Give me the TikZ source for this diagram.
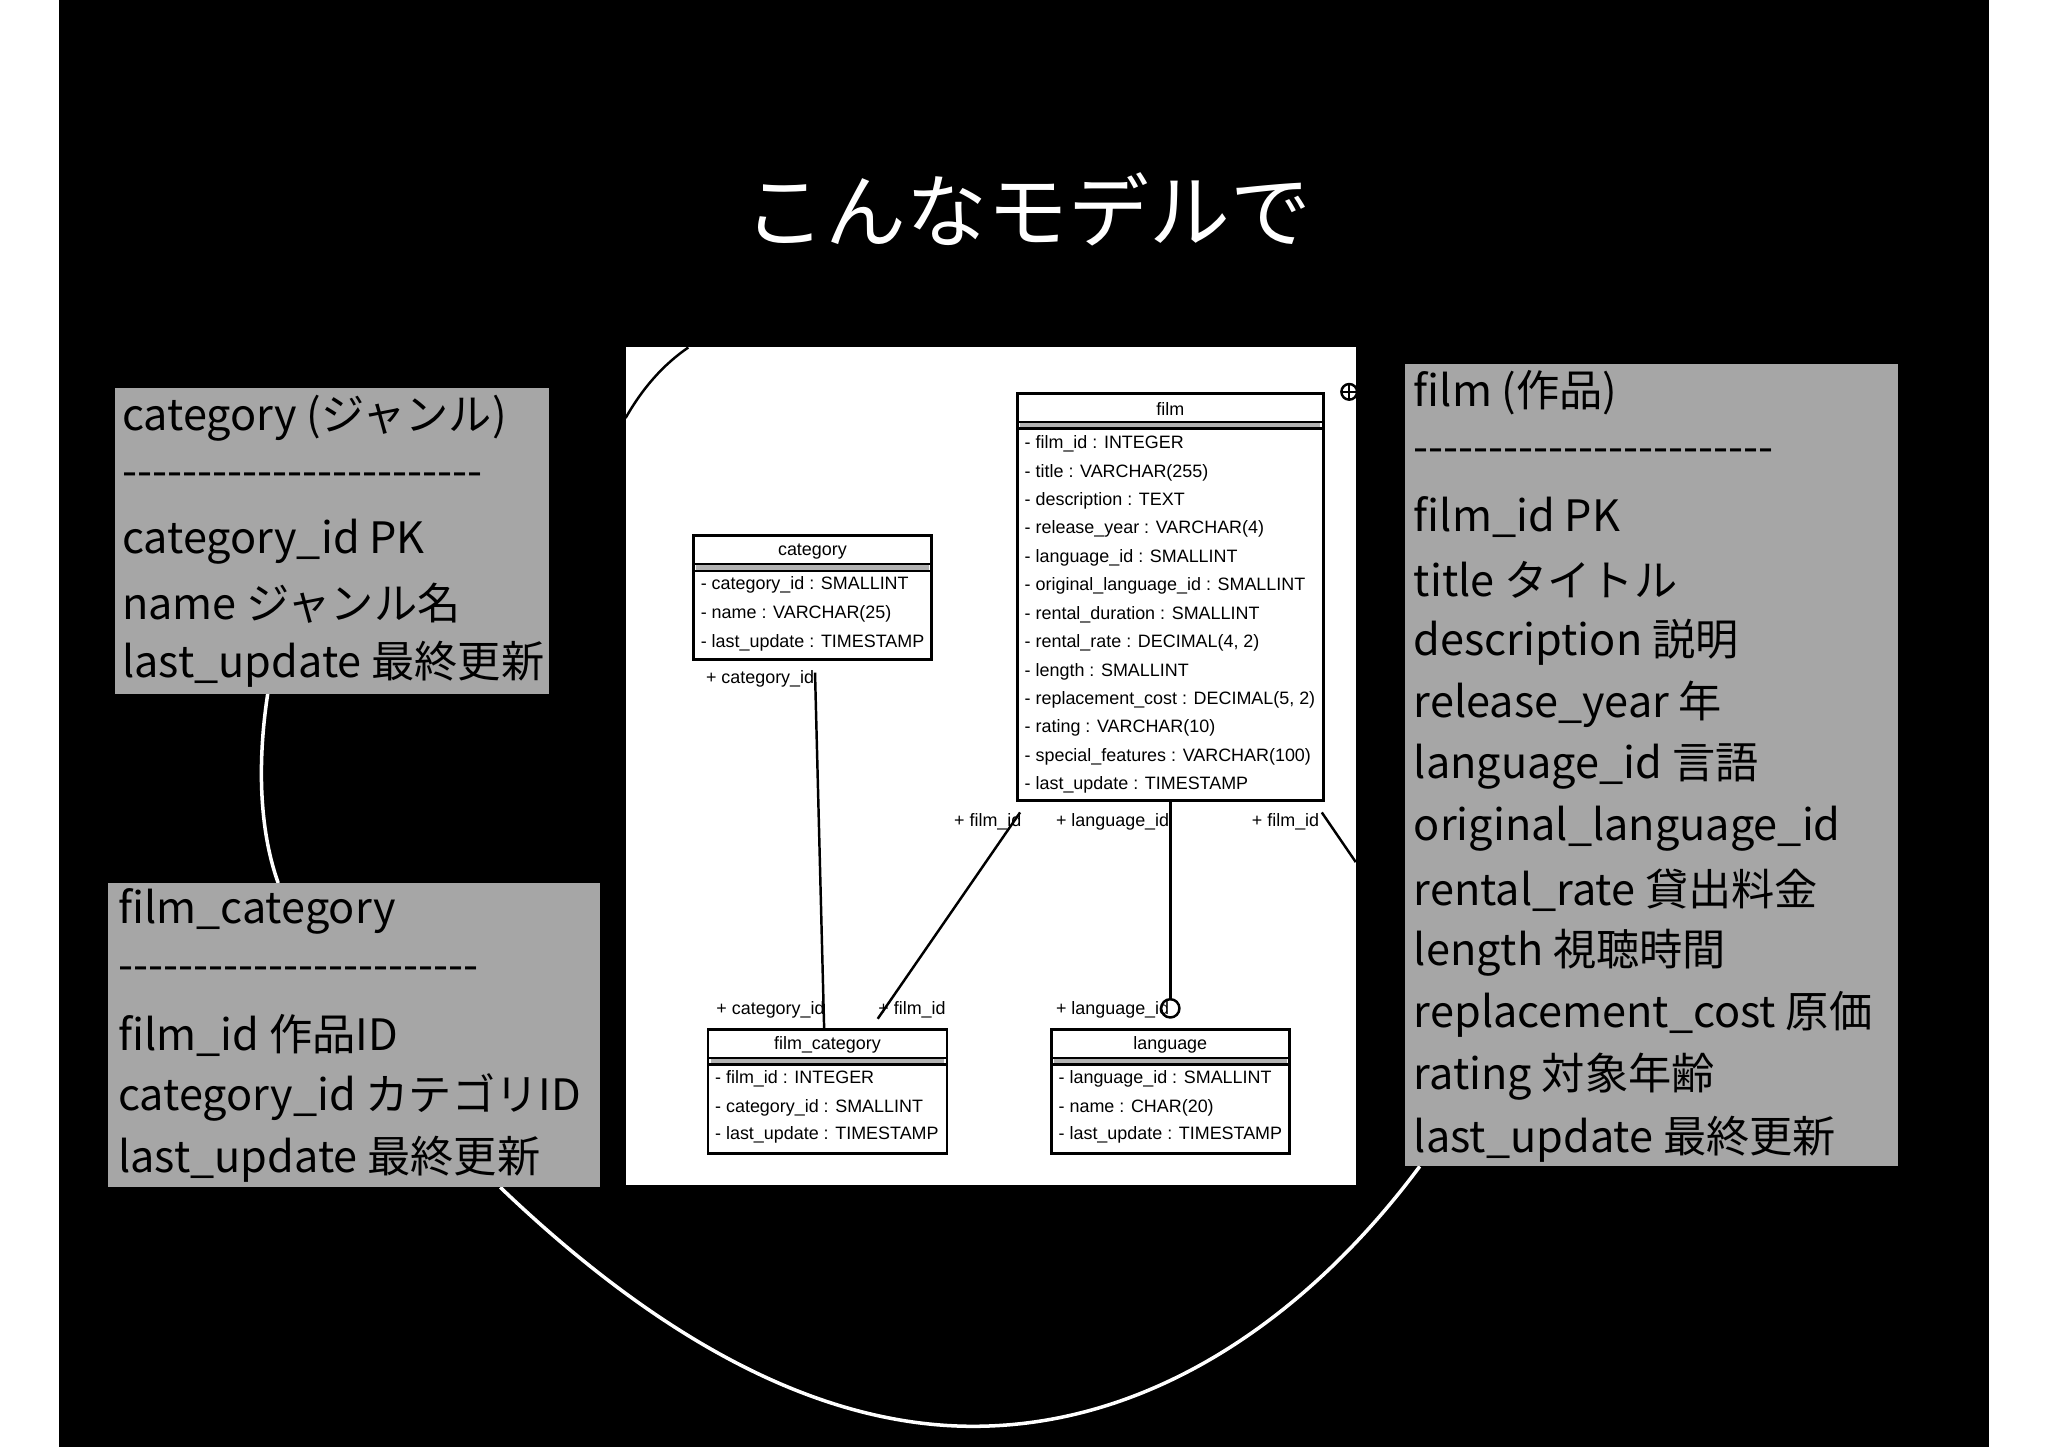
\documentclass[tikz,border=0pt]{standalone}
\usepackage{fontspec}
\setmainfont{Noto Sans CJK JP}
\newfontfamily\erfont{Liberation Sans}
\newcommand{\dashrow}{-{}-{}-{}-{}-{}-{}-{}-{}-{}-{}-{}-{}-{}-{}-{}-{}-{}-{}-{}-{}-{}-{}-{}-}
\begin{document}
\begin{tikzpicture}[x=0.01306cm,y=-0.01306cm,
  gray/.style={fill=black!35,draw=none},
  gtext/.style={anchor=west,text=black,font=\fontsize{12.3}{14}\selectfont,inner sep=0},
  ertxt/.style={anchor=west,font=\erfont\fontsize{5.1}{6}\selectfont,inner sep=0},
  ertitle/.style={font=\erfont\fontsize{5.1}{6}\selectfont,inner sep=0},
  erbox/.style={draw=black,line width=0.8pt},
  conn/.style={draw=black,line width=0.7pt},
  wcurve/.style={draw=white,line width=1pt}]
\useasboundingbox (0,0) rectangle (1568,1108);
\fill[white] (0,0) rectangle (1568,1108);
\fill[black] (45,0) rectangle (1523,1108);
\node[text=white,font=\fontsize{23}{26}\selectfont] (title) at (787,160) {こんなモデルで};
% white panel
\fill[white] (479,266) rectangle (1038,907);
\begin{scope}
\clip (479,266) rectangle (1038,907);
\draw[conn] (479,320) .. controls (492,297) and (508,279) .. (527,266);
\draw[conn] (1033,300) circle (6);
\draw[conn,line width=0.5pt] (1027,300) -- (1039,300) (1033,294) -- (1033,306);
\end{scope}
% ER boxes
\newcommand{\erbox}[6]{% name, x1,y1,x2,title,bottom
  \draw[erbox] (#2,#3) rectangle (#4,#6);
  \fill[black!30] (#2+2,#3+22) rectangle (#4-2,#3+27);
  \draw[black,line width=0.7pt] (#2,#3+22) -- (#4,#3+22) (#2,#3+27) -- (#4,#3+27);
  \node[ertitle] (#1) at ({(#2+#4)/2},#3+12) {#5};
}
\erbox{cat}{531}{410}{713}{category}{505}
\node[ertxt] at (536,448) {- category\_id : SMALLINT};
\node[ertxt] at (536,470) {- name : VARCHAR(25)};
\node[ertxt] at (536,492) {- last\_update : TIMESTAMP};
\erbox{film}{779}{301}{1013}{film}{613}
\foreach \t [count=\i from 0] in {- film\_id : INTEGER,- title : VARCHAR(255),- description : TEXT,- release\_year : VARCHAR(4),- language\_id : SMALLINT,- original\_language\_id : SMALLINT,- rental\_duration : SMALLINT,- rental\_rate : DECIMAL(4{,} 2),- length : SMALLINT,- replacement\_cost : DECIMAL(5{,} 2),- rating : VARCHAR(10),- special\_features : VARCHAR(100),- last\_update : TIMESTAMP}
  \node[ertxt] at (784,340+21.75*\i) {\t};
\erbox{fc}{542}{788}{725}{film\_category}{883}
\node[ertxt] at (547,826) {- film\_id : INTEGER};
\node[ertxt] at (547,848) {- category\_id : SMALLINT};
\node[ertxt] at (547,869) {- last\_update : TIMESTAMP};
\erbox{lang}{805}{788}{987}{language}{883}
\node[ertxt] at (810,826) {- language\_id : SMALLINT};
\node[ertxt] at (810,848) {- name : CHAR(20)};
\node[ertxt] at (810,869) {- last\_update : TIMESTAMP};
% connectors
\coordinate (c1) at (624,515); \coordinate (c2) at (631,788);
\coordinate (f1) at (781,622); \coordinate (f2) at (672,780);
\coordinate (l1) at (896,613); \coordinate (l2) at (896,765);
\coordinate (r1) at (1012,622); \coordinate (r2) at (1038,660);
\draw[conn] (c1) -- (c2);
\draw[conn] (f1) -- (f2);
\draw[conn] (l1) -- (l2);
\draw[conn] (896,772) circle (7);
\draw[conn] (r1) -- (r2);
\node[ertxt] at (540,520) {+ category\_id};
\node[ertxt] at (548,773) {+ category\_id};
\node[ertxt] at (730,629) {+ film\_id};
\node[ertxt] at (672,773) {+ film\_id};
\node[ertxt] at (808,629) {+ language\_id};
\node[ertxt] at (808,773) {+ language\_id};
\node[ertxt] at (958,629) {+ film\_id};
% white curves
\draw[wcurve] (205,531) .. controls (196,590) and (200,640) .. (213,676);
\draw[wcurve] (383,909) .. controls (520,1040) and (640,1092) .. (745,1092) .. controls (880,1092) and (1000,1010) .. (1087,893);
% gray boxes
\fill[gray] (88,297) rectangle (420,531);
\foreach \t [count=\i from 0] in {category (ジャンル),\dashrow,category\_id PK,name ジャンル名,last\_update 最終更新}
  \node[gtext] at (93,320+47.2*\i) {\t};
\fill[gray] (83,676) rectangle (459,909);
\foreach \t [count=\i from 0] in {film\_category,\dashrow,film\_id 作品ID,category\_id カテゴリID,last\_update 最終更新}
  \node[gtext] at (90,698+47.3*\i) {\t};
\fill[gray] (1076,279) rectangle (1453,893);
\foreach \t [count=\i from 0] in {film (作品),\dashrow,film\_id PK,title タイトル,description 説明,release\_year 年,language\_id 言語,original\_language\_id,rental\_rate 貸出料金,length 視聴時間,replacement\_cost 原価,rating 対象年齢,last\_update 最終更新}
  \node[gtext] at (1082,301+47.59*\i) {\t};
\end{tikzpicture}
\end{document}
